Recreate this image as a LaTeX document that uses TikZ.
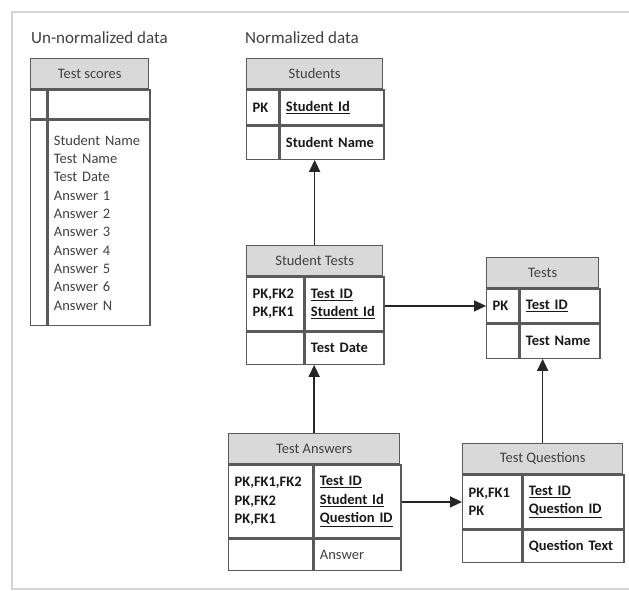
\documentclass[tikz,border=0pt]{standalone}
\usepackage{fontspec}
\setmainfont{Carlito}
\usetikzlibrary{arrows.meta}

\definecolor{linegray}{HTML}{5A5A5A}
\definecolor{headgray}{HTML}{D9D9D9}
\definecolor{textgray}{HTML}{404040}
\definecolor{framegray}{HTML}{D4D4D4}

\tikzstyle{cell}=[draw=linegray,line width=1.3pt,rectangle,inner xsep=6pt,inner ysep=2pt,align=left,text=black!90,font=\fontsize{14.5}{18.3}\selectfont]
\tikzstyle{hdr}=[cell,fill=headgray,text=textgray,align=center,minimum height=30pt]
\tikzstyle{title}=[inner sep=0pt,text=textgray,font=\fontsize{17}{20}\selectfont]
\tikzstyle{link}=[line width=1.6pt,draw=black!85,-{Triangle[length=12pt,width=11pt]}]

% table header: name, top left corner, title, width
\newcommand{\tblhead}[4]{\node[hdr,minimum width=#4,anchor=north west] (#1) at (#2) {#3};}
% table row: name, node above, key width, field width, height, key text, field text
\newcommand{\tblrow}[7]{%
  \pgfmathsetmacro{\kw}{#3-12}\pgfmathsetmacro{\fw}{#4-12}
  \node[cell,text width=\kw pt,minimum height=#5,anchor=north west] (#1-k) at (#2.south west) {#6};
  \node[cell,text width=\fw pt,minimum height=#5,anchor=north west] (#1-f) at (#1-k.north east) {#7};}

\begin{document}
\begin{tikzpicture}[x=1pt,y=-1pt]
    \useasboundingbox (0,0) rectangle (629,591);
    \draw[framegray,line width=1.5pt] (629,12) -- (12,12) -- (12,589) -- (629,589);

    \node[title,anchor=west] (unnorm) at (31,38) {Un-normalized data};
    \node[title,anchor=west] (norm) at (245,38) {Normalized data};

    % un-normalized table
    \tblhead{ts}{30,58}{Test scores}{118}
    \tblrow{ts1}{ts}{16}{102}{29}{}{}
    \tblrow{ts2}{ts1-k}{16}{102}{205}{}{\color{textgray}Student Name\\Test Name\\Test Date\\Answer 1\\Answer 2\\Answer 3\\Answer 4\\Answer 5\\Answer 6\\Answer N}

    % normalized tables
    \tblhead{stu}{246,58}{Students}{136}
    \tblrow{stu1}{stu}{32}{104}{35}{\bfseries PK}{\bfseries\underline{Student Id}}
    \tblrow{stu2}{stu1-k}{32}{104}{33}{}{\bfseries Student Name}

    \tblhead{stt}{246,245}{Student Tests}{136}
    \tblrow{stt1}{stt}{57}{79}{54}{\bfseries PK,FK2\\PK,FK1}{\bfseries\underline{Test ID}\\\underline{Student Id}}
    \tblrow{stt2}{stt1-k}{57}{79}{32}{}{\bfseries Test Date}

    \tblhead{tst}{486,257}{Tests}{112}
    \tblrow{tst1}{tst}{32}{80}{34}{\bfseries PK}{\bfseries\underline{Test ID}}
    \tblrow{tst2}{tst1-k}{32}{80}{34}{}{\bfseries Test Name}

    \tblhead{tan}{228,433}{Test Answers}{171}
    \tblrow{tan1}{tan}{84}{87}{73}{\bfseries PK,FK1,FK2\\PK,FK2\\PK,FK1}{\bfseries\underline{Test ID}\\\underline{Student Id}\\\underline{Question ID}}
    \tblrow{tan2}{tan1-k}{84}{87}{31}{}{\color{textgray}Answer}

    \tblhead{tq}{462,443}{Test Questions}{160}
    \tblrow{tq1}{tq}{59}{101}{54}{\bfseries PK,FK1\\PK}{\bfseries\underline{Test ID}\\\underline{Question ID}}
    \tblrow{tq2}{tq1-k}{59}{101}{32}{}{\bfseries Question Text}

    % relations
    \draw[link] (stt.north) -- (stt.north |- stu2-f.south);
    \draw[link] (stt1-f.east |- tst1-k.west) -- (tst1-k.west);
    \draw[link] (tan.north) -- (tan.north |- stt2-f.south);
    \draw[link] (tan1-f.east |- tq1-k.west) -- (tq1-k.west);
    \draw[link] (tq.north) -- (tq.north |- tst2-f.south);
\end{tikzpicture}
\end{document}
